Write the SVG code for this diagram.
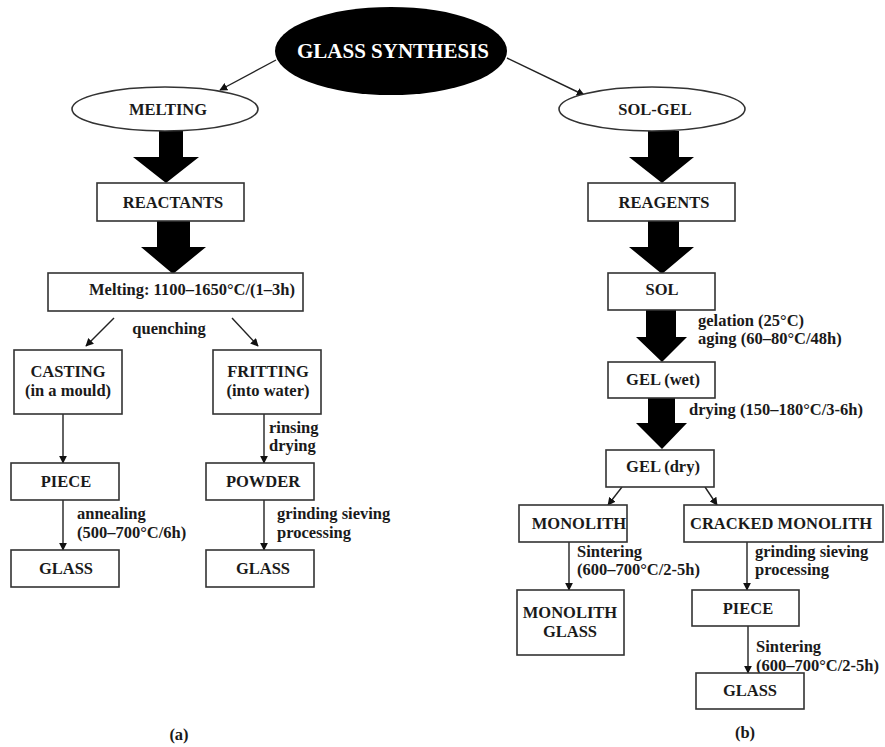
<svg xmlns="http://www.w3.org/2000/svg" width="885" height="747" viewBox="0 0 885 747">
<defs>
<style>
text{font-family:"Liberation Serif","Times New Roman",serif;font-weight:bold;font-size:16.5px;fill:#1a1a1a}
.c{text-anchor:middle}
.box{fill:#fff;stroke:#333;stroke-width:1.6}
.ell{fill:#fff;stroke:#333;stroke-width:1.6}
.ln{stroke:#222;stroke-width:1.4;fill:none;marker-end:url(#ah)}
.big{fill:#000}
</style>
<marker id="ah" viewBox="0 0 10 10" refX="9" refY="5" markerWidth="8" markerHeight="8" orient="auto" markerUnits="userSpaceOnUse">
<path d="M0,0 L10,5 L0,10 z" fill="#111"/>
</marker>
</defs>
<rect width="885" height="747" fill="#fff"/>

<g id="connectors">
<line class="ln" x1="276" y1="60" x2="220" y2="90"/>
<line class="ln" x1="507" y1="58" x2="584" y2="95"/>
<polygon class="big" points="159,131 183,131 183,157 199,157 166,183 133,157 159,157"/>
<polygon class="big" points="157,221 190,221 190,247 206,247 173,274 141,247 157,247"/>
<polygon class="big" points="648,131 679,131 679,157 694,157 662,183 629,157 648,157"/>
<polygon class="big" points="648,221 679,221 679,247 694,247 662,274 629,247 648,247"/>
<polygon class="big" points="646,310 676,310 676,337 687,337 662,362 636,337 646,337"/>
<polygon class="big" points="648,398 675,398 675,423 687,423 662,449 636,423 648,423"/>
<line class="ln" x1="114" y1="318" x2="86" y2="346"/>
<line class="ln" x1="232" y1="318" x2="258" y2="346"/>
<line class="ln" x1="63" y1="414" x2="63" y2="463"/>
<line class="ln" x1="264" y1="414" x2="264" y2="463"/>
<line class="ln" x1="63" y1="500" x2="63" y2="550"/>
<line class="ln" x1="264" y1="500" x2="264" y2="550"/>
<line class="ln" x1="622" y1="487" x2="608" y2="505"/>
<line class="ln" x1="705" y1="487" x2="717" y2="505"/>
<line class="ln" x1="569" y1="542" x2="569" y2="590"/>
<line class="ln" x1="747" y1="542" x2="747" y2="590"/>
<line class="ln" x1="748" y1="626" x2="748" y2="673"/>
<text x="169" y="334" class="c">quenching</text>
<text x="269" y="433">rinsing</text>
<text x="269" y="451">drying</text>
<text x="77" y="519">annealing</text>
<text x="77" y="538">(500–700°C/6h)</text>
<text x="277" y="519">grinding sieving</text>
<text x="277" y="538">processing</text>
<text x="698" y="326">gelation (25°C)</text>
<text x="698" y="344">aging (60–80°C/48h)</text>
<text x="689" y="415">drying (150–180°C/3-6h)</text>
<text x="577" y="557">Sintering</text>
<text x="577" y="575">(600–700°C/2-5h)</text>
<text x="755" y="557">grinding sieving</text>
<text x="755" y="575">processing</text>
<text x="756" y="652">Sintering</text>
<text x="756" y="671">(600–700°C/2-5h)</text>
</g>

<g id="glass-synthesis">
<ellipse cx="391" cy="51" rx="116" ry="44" fill="#000"/>
<text x="393" y="58" class="c" style="font-size:21px;fill:#fff">GLASS SYNTHESIS</text>
</g>
<g id="melting">
<ellipse class="ell" cx="165" cy="109" rx="93" ry="22"/>
<text x="168" y="115" class="c">MELTING</text>
</g>
<g id="sol-gel">
<ellipse class="ell" cx="652" cy="109" rx="93" ry="22"/>
<text x="655" y="115" class="c">SOL-GEL</text>
</g>
<g id="reactants">
<rect class="box" x="97" y="183" width="147" height="38"/>
<text x="173" y="208" class="c">REACTANTS</text>
</g>
<g id="melting-step">
<rect class="box" x="48" y="273" width="255" height="38"/>
<text x="192" y="295" class="c">Melting: 1100–1650°C/(1–3h)</text>
</g>
<g id="casting">
<rect class="box" x="14" y="350" width="108" height="64"/>
<text x="68" y="377" class="c">CASTING</text>
<text x="68" y="396" class="c">(in a mould)</text>
</g>
<g id="fritting">
<rect class="box" x="213" y="350" width="108" height="64"/>
<text x="268" y="377" class="c">FRITTING</text>
<text x="268" y="396" class="c">(into water)</text>
</g>
<g id="piece-a">
<rect class="box" x="11" y="463" width="108" height="37"/>
<text x="66" y="487" class="c">PIECE</text>
</g>
<g id="powder">
<rect class="box" x="206" y="463" width="108" height="37"/>
<text x="263" y="487" class="c">POWDER</text>
</g>
<g id="glass-a1">
<rect class="box" x="11" y="550" width="108" height="37"/>
<text x="66" y="574" class="c">GLASS</text>
</g>
<g id="glass-a2">
<rect class="box" x="206" y="550" width="108" height="37"/>
<text x="263" y="574" class="c">GLASS</text>
</g>
<g id="reagents">
<rect class="box" x="588" y="183" width="147" height="38"/>
<text x="664" y="208" class="c">REAGENTS</text>
</g>
<g id="sol">
<rect class="box" x="608" y="273" width="107" height="37"/>
<text x="662" y="295" class="c">SOL</text>
</g>
<g id="gel-wet">
<rect class="box" x="608" y="362" width="107" height="36"/>
<text x="663" y="385" class="c">GEL (wet)</text>
</g>
<g id="gel-dry">
<rect class="box" x="606" y="450" width="108" height="37"/>
<text x="663" y="472" class="c">GEL (dry)</text>
</g>
<g id="monolith">
<rect class="box" x="519" y="505" width="108" height="37"/>
<text x="579" y="529" class="c">MONOLITH</text>
</g>
<g id="cracked-monolith">
<rect class="box" x="684" y="505" width="199" height="37"/>
<text x="781" y="529" class="c">CRACKED MONOLITH</text>
</g>
<g id="monolith-glass">
<rect class="box" x="517" y="590" width="107" height="65"/>
<text x="570" y="618" class="c">MONOLITH</text>
<text x="570" y="637" class="c">GLASS</text>
</g>
<g id="piece-b">
<rect class="box" x="692" y="590" width="107" height="36"/>
<text x="748" y="614" class="c">PIECE</text>
</g>
<g id="glass-b">
<rect class="box" x="696" y="673" width="108" height="36"/>
<text x="750" y="696" class="c">GLASS</text>
</g>
<text x="179" y="740" class="c">(a)</text>
<text x="745" y="738" class="c">(b)</text>
</svg>
